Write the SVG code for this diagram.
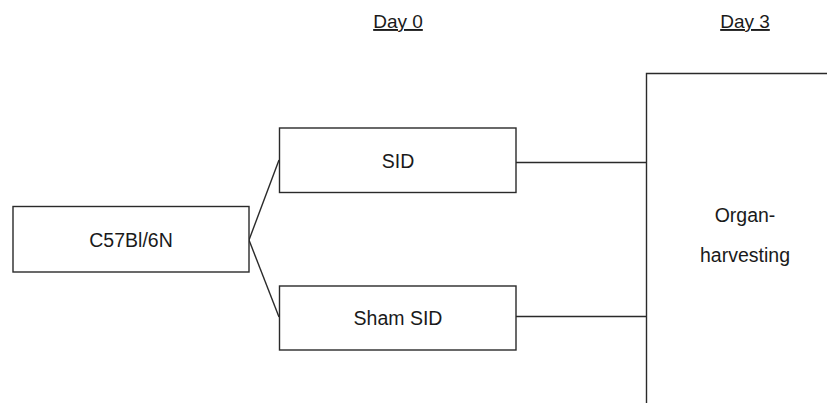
<svg xmlns="http://www.w3.org/2000/svg" width="827" height="403" viewBox="0 0 827 403">
  <style>
    .box { fill: #ffffff; stroke: #2a2a2a; stroke-width: 1.4; }
    .link { fill: none; stroke: #2a2a2a; stroke-width: 1.4; }
    .label { font-family: "Liberation Sans", Arial, sans-serif; font-size: 19.5px; fill: #1a1a1a; text-anchor: middle; }
    .day { font-family: "Liberation Sans", Arial, sans-serif; font-size: 19px; fill: #1a1a1a; text-anchor: middle; text-decoration: underline; }
  </style>
  <rect width="827" height="403" fill="#ffffff"/>

  <!-- timeline headings -->
  <g id="headings">
    <text class="day" x="398" y="28">Day 0</text>
    <text class="day" x="745" y="28">Day 3</text>
  </g>

  <!-- connectors -->
  <g id="connectors">
    <path class="link" d="M249,240 L279,160"/>
    <path class="link" d="M249,240 L279,317"/>
    <path class="link" d="M516,162.5 L646.5,162.5"/>
    <path class="link" d="M516,316.5 L646.5,316.5"/>
  </g>

  <g id="node-strain">
    <rect class="box" x="13" y="206.5" width="236" height="65.5"/>
    <text class="label" x="131" y="247">C57Bl/6N</text>
  </g>

  <g id="node-sid">
    <rect class="box" x="279.5" y="128" width="236.5" height="64.5"/>
    <text class="label" x="398" y="168">SID</text>
  </g>

  <g id="node-sham">
    <rect class="box" x="279.5" y="286" width="236.5" height="64"/>
    <text class="label" x="398" y="325">Sham SID</text>
  </g>

  <g id="node-harvest">
    <path class="box" d="M828,73.5 L646.5,73.5 L646.5,404"/>
    <text class="label" x="745" y="222">Organ-</text>
    <text class="label" x="745" y="262">harvesting</text>
  </g>
</svg>
